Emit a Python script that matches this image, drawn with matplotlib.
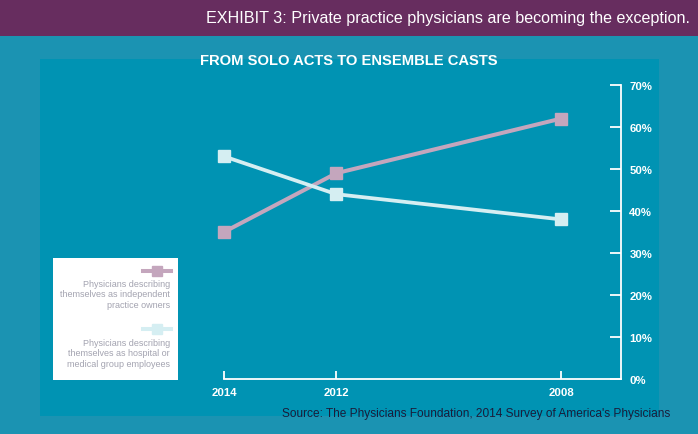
import matplotlib
matplotlib.use("Agg")
import matplotlib.pyplot as plt
from matplotlib.patches import Rectangle
from matplotlib.lines import Line2D
from matplotlib.ticker import FuncFormatter

W, H = 698, 435

years = [2014, 2012, 2008]
owners = [35, 49, 62]
employees = [53, 44, 38]
yticks = [0, 10, 20, 30, 40, 50, 60, 70]

purple = '#672d5f'
outer = '#1b93b2'
panel = '#0093b3'
pink = '#c4a6bd'
light = '#d5eef2'


def fx(x):
    return x / W


def fy(y):
    return 1 - y / H


fig = plt.figure(figsize=(W / 100, H / 100), dpi=100)
fig.patch.set_facecolor(outer)

# title bar and inner panel
fig.add_artist(Rectangle((0, fy(37)), 1, 37 / H, transform=fig.transFigure,
                         facecolor=purple, edgecolor='none', zorder=0))
fig.add_artist(Rectangle((fx(40), fy(417)), (659 - 40) / W, (417 - 60) / H,
                         transform=fig.transFigure, facecolor=panel,
                         edgecolor='none', zorder=0))

fig.text(fx(690), fy(18), 'EXHIBIT 3: Private practice physicians are becoming the exception.',
         color='white', fontsize=11.6, family='Liberation Sans',
         ha='right', va='center')
fig.text(fx(349), fy(61), 'FROM SOLO ACTS TO ENSEMBLE CASTS', color='white',
         fontsize=10.6, fontweight='bold', family='Liberation Sans',
         ha='center', va='center')
fig.text(fx(670), fy(414), "Source: The Physicians Foundation, 2014 Survey of America's Physicians",
         color='#1c1c3a', fontsize=8.6, family='Liberation Sans',
         ha='right', va='center')

ax = fig.add_axes([fx(224), fy(380), (621 - 224) / W, (380 - 86) / H])
ax.set_facecolor('none')

ax.plot(years, owners, color=pink, lw=2.9, marker='s', ms=8.6, clip_on=False, zorder=3)
ax.plot(years, employees, color=light, lw=2.7, marker='s', ms=8.6, clip_on=False, zorder=4)

ax.set_xlim(2014, 2008 - 60 / 56.25)
ax.set_ylim(0, 70)
ax.set_xticks(years)
ax.set_yticks(yticks)
ax.yaxis.set_major_formatter(FuncFormatter(lambda v, p: '%d%%' % v))

for s in ['top', 'left']:
    ax.spines[s].set_visible(False)
for s in ['right', 'bottom']:
    ax.spines[s].set_color('white')
    ax.spines[s].set_linewidth(1.3)

ax.yaxis.tick_right()
ax.tick_params(axis='y', direction='in', length=8, width=1.3, color='white',
               labelcolor='white', labelsize=8.2, pad=6)
ax.tick_params(axis='x', direction='in', length=6, width=1.3, color='white',
               labelcolor='white', labelsize=8.2, pad=6)
for lab in ax.get_xticklabels() + ax.get_yticklabels():
    lab.set_fontweight('bold')
    lab.set_family('Liberation Sans')

# legend box
fig.add_artist(Rectangle((fx(53), fy(381)), (178 - 53) / W, (381 - 259) / H,
                         transform=fig.transFigure, facecolor='white',
                         edgecolor='none', zorder=5))
entries = [
    (pink, 272, 'Physicians describing\nthemselves as independent\npractice owners', 295),
    (light, 330, 'Physicians describing\nthemselves as hospital or\nmedical group employees', 354),
]
for col, ly, label, ty in entries:
    fig.add_artist(Line2D([fx(143), fx(171)], [fy(ly), fy(ly)], transform=fig.transFigure,
                          color=col, lw=2.9, zorder=6))
    fig.add_artist(Line2D([fx(157)], [fy(ly)], transform=fig.transFigure,
                          color=col, marker='s', ms=6.5, ls='none', zorder=7))
    fig.text(fx(170), fy(ty), label, color='#a3a3b0', fontsize=6.5,
             family='Liberation Sans', ha='right', va='center',
             linespacing=1.2, zorder=7)

fig.savefig('out.png', dpi=100, facecolor=fig.get_facecolor())
